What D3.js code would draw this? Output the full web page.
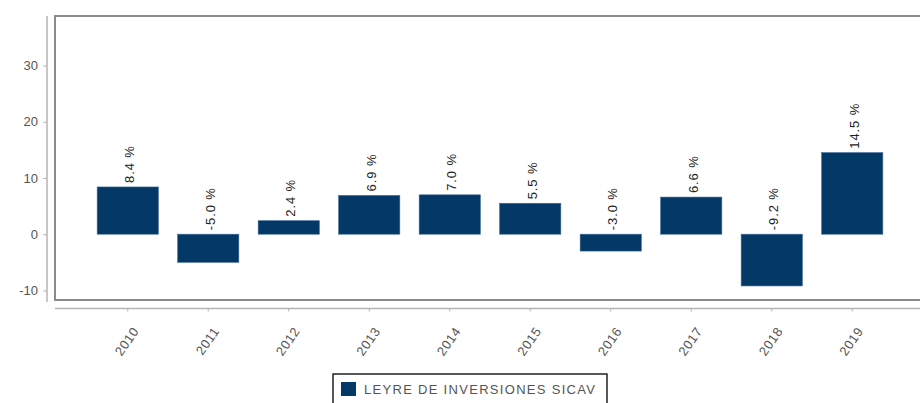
<!DOCTYPE html>
<html>
<head>
<meta charset="utf-8">
<script src="https://cdn.jsdelivr.net/npm/d3@7/dist/d3.min.js"></script>
<style>
  html, body { margin: 0; padding: 0; background: #fff; }
  svg { display: block; font-family: "Liberation Sans", Arial, sans-serif; }
</style>
</head>
<body>
<svg id="chart" width="920" height="403"></svg>
<script>
// Annual returns (%) of the fund
const years = ["2010", "2011", "2012", "2013", "2014", "2015", "2016", "2017", "2018", "2019"];
const returns = [8.4, -5.0, 2.4, 6.9, 7.0, 5.5, -3.0, 6.6, -9.2, 14.5];
const yTicks = [-10, 0, 10, 20, 30];
const seriesName = "LEYRE DE INVERSIONES SICAV";

const barColor = "#043866";
const fontFamily = "Liberation Sans, Arial, sans-serif";
const svg = d3.select("#chart");

// Plot frame
const frame = { left: 55, top: 16, right: 925, bottom: 300 };

const x = d3.scaleBand()
  .domain(years)
  .range([87.5, 892.5])
  .paddingInner(0.24)
  .paddingOuter(0.12);

const y = d3.scaleLinear()
  .domain([-11.7, 38.8])
  .range([frame.bottom, frame.top]);

// Frame border (top, left, bottom)
svg.append("path")
  .attr("d", `M${frame.right},${frame.top} H${frame.left} V${frame.bottom} H${frame.right}`)
  .attr("fill", "none")
  .attr("stroke", "#8a8a8a")
  .attr("stroke-width", 2);

// Y axis, detached to the left of the frame
const yAxis = svg.append("g")
  .attr("transform", "translate(47,0)")
  .call(d3.axisLeft(y).tickValues(yTicks).tickSize(4).tickPadding(5).tickSizeOuter(0)
    .tickFormat(d => String(d)));
yAxis.select(".domain").attr("stroke", "#b5b5b5").attr("stroke-width", 1.5)
  .attr("d", `M0,${frame.top}V${frame.bottom + 2}`);
yAxis.selectAll(".tick line").attr("stroke", "#b5b5b5");
yAxis.selectAll(".tick text").attr("fill", "#555").attr("font-size", 13)
  .attr("font-family", fontFamily);

// X axis, detached below the frame
const xAxis = svg.append("g")
  .attr("transform", "translate(0,308.5)")
  .call(d3.axisBottom(x).tickSize(3).tickSizeOuter(0));
xAxis.select(".domain").attr("stroke", "#b5b5b5").attr("stroke-width", 1.5)
  .attr("d", `M${frame.left},0H${frame.right}`);
xAxis.selectAll(".tick line").attr("stroke", "#b5b5b5");
xAxis.selectAll(".tick text")
  .attr("fill", "#555")
  .attr("font-size", 13)
  .attr("letter-spacing", "0.6px")
  .attr("font-family", fontFamily)
  .attr("text-anchor", "end")
  .attr("x", 0).attr("y", 0).attr("dy", "0.35em")
  .attr("transform", "translate(8,20) rotate(-55)");

// Bars
svg.append("g").selectAll("rect")
  .data(years.map((yr, i) => ({ yr, v: returns[i] })))
  .join("rect")
  .attr("x", d => x(d.yr))
  .attr("width", x.bandwidth())
  .attr("y", d => y(Math.max(0, d.v)))
  .attr("height", d => Math.abs(y(d.v) - y(0)))
  .attr("fill", barColor)
  .attr("stroke", "#3a6894")
  .attr("stroke-width", 0.6);

// Value labels, rotated, above the bar or above the zero line for losses
svg.append("g").selectAll("text")
  .data(years.map((yr, i) => ({ yr, v: returns[i] })))
  .join("text")
  .attr("transform", d => {
    const cx = x(d.yr) + x.bandwidth() / 2 + 2;
    const cy = y(Math.max(0, d.v)) - 4;
    return `translate(${cx},${cy}) rotate(-90)`;
  })
  .attr("dy", "0.35em")
  .attr("text-anchor", "start")
  .attr("font-size", 13)
  .attr("letter-spacing", "0.9px")
  .attr("fill", "#222")
  .text(d => d.v.toFixed(1) + " %");

// Legend
const legend = svg.append("g").attr("transform", "translate(333,374)");
legend.append("rect")
  .attr("width", 274).attr("height", 34)
  .attr("fill", "#fff")
  .attr("stroke", "#222").attr("stroke-width", 1.5);
legend.append("rect")
  .attr("x", 8).attr("y", 8).attr("width", 15).attr("height", 14)
  .attr("fill", barColor);
legend.append("text")
  .attr("x", 31).attr("y", 15).attr("dy", "0.35em")
  .attr("font-size", 13)
  .attr("letter-spacing", "1.3px")
  .attr("fill", "#555")
  .text(seriesName);
</script>
</body>
</html>
